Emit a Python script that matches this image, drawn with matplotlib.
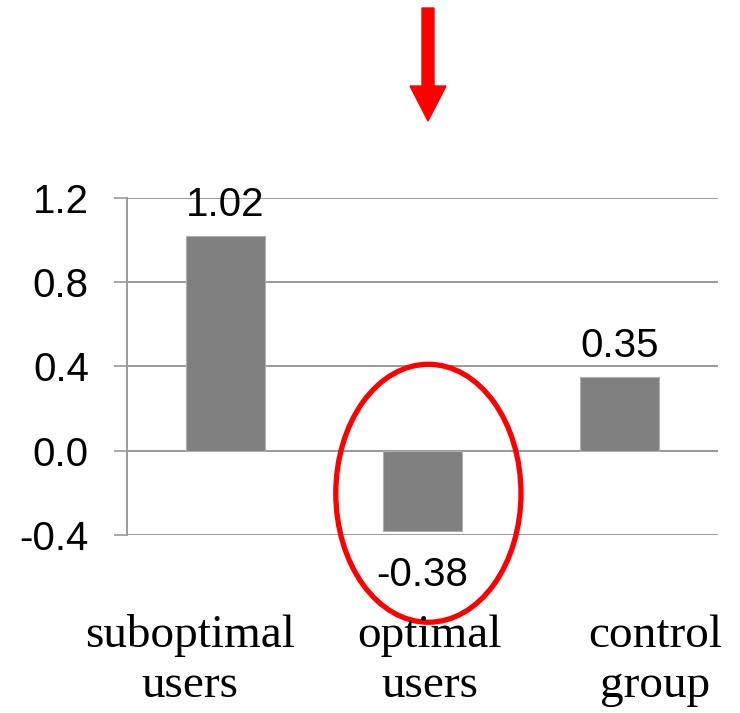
import matplotlib.pyplot as plt
from matplotlib.patches import Ellipse, FancyArrow

groups = ['suboptimal\nusers', 'optimal\nusers', 'control\ngroup']
values = [1.02, -0.38, 0.35]
yticks = [-0.4, 0.0, 0.4, 0.8, 1.2]

fig = plt.figure(figsize=(7.4, 7.13), dpi=100)
ax = fig.add_axes([0.1716, 0.2497, 0.7986, 0.4726])

pos = list(range(len(values)))
bars = ax.bar(pos, values, width=0.4, color='#808080', edgecolor='#b0b0b0', linewidth=0.8, zorder=3)

ax.set_xlim(-0.5, 2.5)
ax.set_ylim(-0.4, 1.2)
ax.set_yticks(yticks)
ax.set_yticklabels(['%.1f' % t for t in yticks], fontsize=29, family='Liberation Sans')
ax.set_xticks([])
ax.grid(axis='y', color='#9a9a9a', linewidth=1.4, zorder=1)
ax.axhline(0, color='#9a9a9a', linewidth=1.4, zorder=2)
ax.tick_params(axis='y', length=9.5, width=1.2, color='#9a9a9a', pad=18)
for s in ['top', 'right', 'bottom']:
    ax.spines[s].set_visible(False)
ax.spines['left'].set_color('#9a9a9a')
ax.spines['left'].set_linewidth(1.4)

# value labels over / under each bar
for b, v in zip(bars, values):
    x = b.get_x() + b.get_width() / 2
    off = 14.5 if v >= 0 else -40
    ax.annotate('%.2f' % v, (x, v), xytext=(0, off), textcoords='offset points',
                ha='center', va='baseline', fontsize=29, family='Liberation Sans')

# group names under the plot, one line at a time
label_x = [190, 430, 655]
for lx, g in zip(label_x, groups):
    for i, line in enumerate(g.split('\n')):
        fig.text(lx / 740, 1 - (647 + 50 * i) / 713, line, ha='center', va='baseline',
                 fontsize=34, family='Liberation Serif')

# highlight the optimal group
ax.add_patch(Ellipse((1.03, values[1] / 2 - 0.012), 0.94, 1.225, fill=False,
                     edgecolor='#ff0000', linewidth=3.8, clip_on=False, zorder=5))
fig.patches.append(FancyArrow(428 / 740, 1 - 8 / 713, 0, -113 / 713, width=12 / 740,
                              head_width=36 / 740, head_length=35 / 713,
                              length_includes_head=True, color='#ff0000',
                              transform=fig.transFigure, figure=fig))

fig.savefig('out.png', dpi=100)
